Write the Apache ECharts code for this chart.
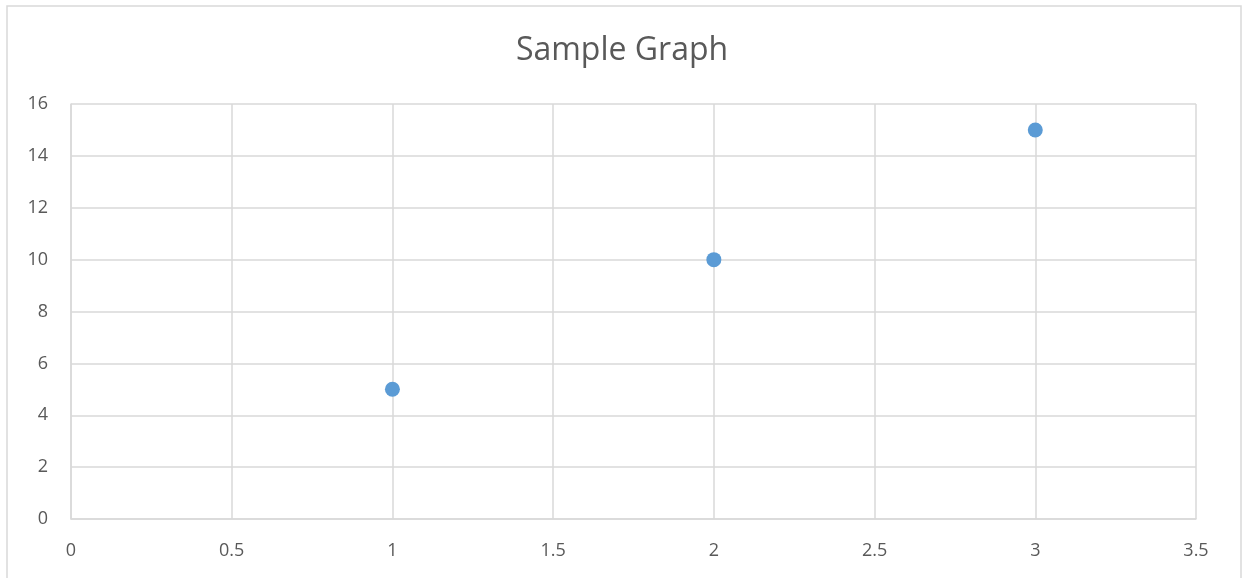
<!DOCTYPE html>
<html>
<head>
<meta charset="utf-8">
<script src="https://cdn.jsdelivr.net/npm/echarts@6/dist/echarts.min.js"></script>
<style>
  html, body { margin: 0; padding: 0; background: #fff; }
  #chart { width: 1244px; height: 578px; }
</style>
</head>
<body>
<div id="chart"></div>
<script>
// data
const xValues = [1, 2, 3]
const yValues = [5, 10, 15]
const titleText = 'Sample Graph'

const points = xValues.map((x, i) => [x, yValues[i]])

const chart = echarts.init(document.getElementById('chart'))

const textColor = '#595959'
const gridColor = '#D9D9D9'
const font = 'Open Sans, Noto Sans, sans-serif'

chart.setOption({
  animation: false,
  title: {
    text: titleText,
    left: 'center',
    top: 30,
    textStyle: { color: textColor, fontSize: 32, fontWeight: 'normal', fontFamily: font }
  },
  graphic: [{
    type: 'rect',
    shape: { x: 7, y: 6, width: 1234, height: 620 },
    style: { fill: 'none', stroke: gridColor, lineWidth: 1.5 },
    silent: true
  }],
  grid: { left: 71, right: 48, top: 104, bottom: 59 },
  xAxis: {
    type: 'value',
    min: 0,
    max: 3.5,
    interval: 0.5,
    axisLine: { show: true, lineStyle: { color: gridColor, width: 1.5 } },
    axisTick: { show: false },
    splitLine: { show: true, lineStyle: { color: gridColor, width: 1.5 } },
    axisLabel: { color: textColor, fontSize: 18, fontFamily: font, margin: 23 }
  },
  yAxis: {
    type: 'value',
    min: 0,
    max: 16,
    interval: 2,
    axisLine: { show: true, lineStyle: { color: gridColor, width: 1.5 } },
    axisTick: { show: false },
    splitLine: { show: true, lineStyle: { color: gridColor, width: 1.5 } },
    axisLabel: { color: textColor, fontSize: 18, fontFamily: font, margin: 23 }
  },
  series: [{
    type: 'scatter',
    data: points,
    symbolSize: 15,
    itemStyle: { color: '#5B9BD5', opacity: 1 }
  }]
})
</script>
</body>
</html>
